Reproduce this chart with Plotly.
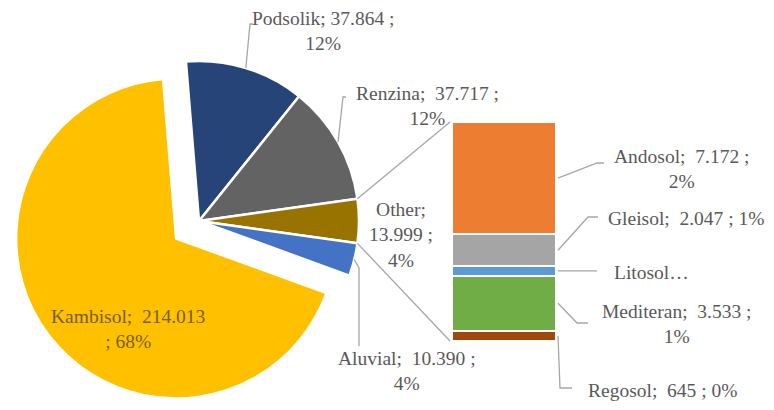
import math
import plotly.graph_objects as go

# Main pie (values in hectares, "." used as thousands separator in labels)
pie_labels = ["Podsolik", "Renzina", "Other", "Aluvial", "Kambisol"]
pie_values = [37864, 37717, 13999, 10390, 214013]
pie_pct = ["12%", "12%", "4%", "4%", "68%"]
pie_colors = ["#264478", "#636363", "#997300", "#4472C4", "#FFC000"]
pie_pull = [0, 0, 0, 0, 0.18]

# Breakdown of "Other" (top to bottom in the column)
bar_labels = ["Andosol", "Gleisol", "Litosol", "Mediteran", "Regosol"]
bar_values = [7172, 2047, 602, 3533, 645]
bar_pct = ["2%", "1%", "0%", "1%", "0%"]
bar_colors = ["#ED7D31", "#A5A5A5", "#5B9BD5", "#70AD47", "#9E480E"]

W, H = 774, 410
FONT = "Liberation Serif"
TXT = "#595959"
FSIZE = 19.5


def fmt(v):
    return f"{v:,}".replace(",", ".")


def px(x):
    return x / W


def py(y):
    return 1 - y / H


# pie geometry (pixels)
cx, cy, r = 199, 221, 160
half = r * (1 + max(pie_pull))
total = sum(pie_values)
other_i = pie_labels.index("Other")
before_other = sum(pie_values[:other_i])
# rotate so that the "Other" slice faces the column (3 o'clock)
rotation = 90 - (before_other + pie_values[other_i] / 2) / total * 360

# column geometry (pixels)
bx0, bx1, by0, by1 = 452, 556, 122, 341
other_total = sum(bar_values)

fig = go.Figure()

fig.add_trace(go.Pie(
    labels=pie_labels, values=pie_values, sort=False, direction="clockwise",
    rotation=rotation, pull=pie_pull, textinfo="none", hoverinfo="label+value+percent",
    marker=dict(colors=pie_colors, line=dict(color="white", width=2.5)),
    domain=dict(x=[px(cx - half), px(cx + half)], y=[py(cy + half), py(cy - half)]),
    showlegend=False,
))

# stacked column: plotly stacks from the bottom, so add in reverse
for lab, val, col in reversed(list(zip(bar_labels, bar_values, bar_colors))):
    fig.add_trace(go.Bar(
        x=["Other"], y=[val], name=lab, marker=dict(color=col, line=dict(color="white", width=2)),
        showlegend=False, hoverinfo="name+y",
    ))


def angle_of(cum):
    return math.radians(rotation + cum / total * 360)


def pie_pt(cum, rad=r):
    a = angle_of(cum)
    return cx + rad * math.sin(a), cy - rad * math.cos(a)


shapes = []
line_style = dict(color="#A6A6A6", width=1.3)


def seg(points):
    path = "M " + " L ".join(f"{px(x):.5f},{py(y):.5f}" for x, y in points)
    shapes.append(dict(type="path", path=path, xref="paper", yref="paper", line=line_style))


# connector lines from the "Other" slice to the column
top_pt = pie_pt(before_other)
bot_pt = pie_pt(before_other + pie_values[other_i])
seg([top_pt, (bx0 - 2, by0)])
seg([bot_pt, (bx0 - 2, by1)])

annotations = []


def label(text, x, y, color=TXT):
    annotations.append(dict(
        text=text, x=px(x), y=py(y), xref="paper", yref="paper", showarrow=False,
        xanchor="center", yanchor="middle", align="center",
        font=dict(family=FONT, size=FSIZE, color=color),
    ))


# pie labels
cum = 0
mids = {}
for lab, val in zip(pie_labels, pie_values):
    mids[lab] = pie_pt(cum + val / 2)
    cum += val

pv = dict(zip(pie_labels, pie_values))
pp = dict(zip(pie_labels, pie_pct))

seg([mids["Podsolik"], (250, 24), (253, 24)])
label(f"Podsolik; {fmt(pv['Podsolik'])} ;<br>{pp['Podsolik']}", 323, 31)

seg([mids["Renzina"], (343, 97), (346, 97)])
label(f"Renzina;  {fmt(pv['Renzina'])} ;<br>{pp['Renzina']}", 427, 106)

label(f"Other;<br>{fmt(pv['Other'])} ;<br>{pp['Other']}", 401, 235)

seg([mids["Aluvial"], (359, 268), (359, 346)])
label(f"Aluvial;  {fmt(pv['Aluvial'])} ;<br>{pp['Aluvial']}", 407, 371)

label(f"Kambisol;  {fmt(pv['Kambisol'])}<br>; {pp['Kambisol']}", 128, 329, color="#76601C")

# column labels
seg_mid = {}
acc = 0
for lab, val in zip(bar_labels, bar_values):
    y_top = by0 + acc / other_total * (by1 - by0)
    acc += val
    y_bot = by0 + acc / other_total * (by1 - by0)
    seg_mid[lab] = (y_top + y_bot) / 2

bv = dict(zip(bar_labels, bar_values))
bp = dict(zip(bar_labels, bar_pct))
xe = bx1 + 2

seg([(xe, seg_mid["Andosol"]), (597, 163), (604, 163)])
label(f"Andosol;  {fmt(bv['Andosol'])} ;<br>{bp['Andosol']}", 681, 169)

seg([(xe, seg_mid["Gleisol"]), (588, 217), (598, 217)])
label(f"Gleisol;  {fmt(bv['Gleisol'])} ; {bp['Gleisol']}", 686, 218)

seg([(xe, seg_mid["Litosol"]), (597, seg_mid["Litosol"])])
label("Litosol…", 651, 272)

seg([(xe, seg_mid["Mediteran"]), (577, 323), (588, 323)])
label(f"Mediteran;  {fmt(bv['Mediteran'])} ;<br>{bp['Mediteran']}", 676, 324)

seg([(xe, seg_mid["Regosol"]), (560, 388), (572, 388)])
label(f"Regosol;  {bv['Regosol']} ; {bp['Regosol']}", 663, 390)

fig.update_layout(
    width=W, height=H, margin=dict(l=0, r=0, t=0, b=0),
    paper_bgcolor="white", plot_bgcolor="white",
    barmode="stack", bargap=0,
    xaxis=dict(domain=[px(bx0), px(bx1)], range=[-0.5, 0.5], visible=False, fixedrange=True),
    yaxis=dict(domain=[py(by1), py(by0)], range=[0, other_total], visible=False, fixedrange=True),
    shapes=shapes, annotations=annotations,
    font=dict(family=FONT, color=TXT),
)

fig.write_html("out.html")
